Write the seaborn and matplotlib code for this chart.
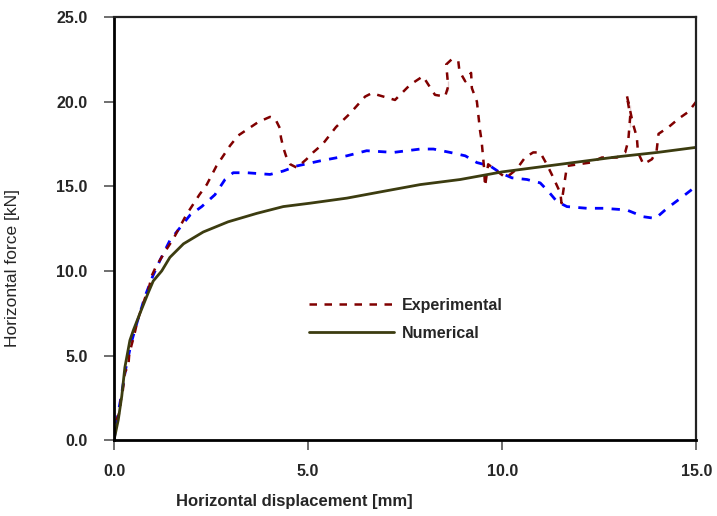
import matplotlib
matplotlib.use("Agg")
import matplotlib.pyplot as plt
import seaborn as sns
import pandas as pd

# Experimental curve (dark red, in legend)
exp_x = [0.0, 0.0, 0.07, 0.15, 0.17, 0.22, 0.28, 0.37, 0.39, 0.45, 0.51, 0.57, 0.64, 0.71,
         0.80, 0.91, 0.97, 1.07, 1.20, 1.36, 1.53, 1.86, 2.20, 2.39, 2.64, 2.99, 3.20, 3.72,
         4.02, 4.15, 4.28, 4.30, 4.36, 4.43, 4.54, 4.71, 4.96, 5.13, 5.38, 5.72, 6.08, 6.47,
         6.64, 6.94, 7.24, 7.63, 7.96, 8.10, 8.27, 8.53, 8.61, 8.61, 8.56, 8.70, 8.87, 8.90,
         9.05, 9.20, 9.22, 9.35, 9.43, 9.47, 9.53, 9.56, 9.64, 9.86, 10.10, 10.37, 10.59,
         10.80, 10.98, 11.15, 11.30, 11.50, 11.53, 11.67, 11.96, 12.27, 12.57, 12.96, 13.17,
         13.25, 13.30, 13.21, 13.30, 13.37, 13.47, 13.50, 13.64, 13.86, 13.98, 14.03, 14.29,
         14.55, 14.80, 15.00]
exp_y = [0.0, 0.6, 1.2, 1.7, 2.3, 2.8, 4.0, 4.4, 5.0, 5.6, 6.1, 6.7, 7.3, 7.8,
         8.4, 9.1, 9.7, 10.2, 10.7, 11.3, 11.9, 13.3, 14.5, 15.1, 16.2, 17.4, 18.0, 18.8,
         19.1, 19.0, 18.4, 17.9, 17.3, 16.8, 16.3, 16.1, 16.6, 17.0, 17.5, 18.5, 19.3, 20.3,
         20.5, 20.3, 20.1, 21.0, 21.5, 21.0, 20.4, 20.3, 20.6, 21.2, 22.2, 22.5, 22.4, 21.8,
         21.2, 21.7, 20.8, 20.0, 18.3, 17.7, 16.2, 15.0, 16.3, 15.9, 15.5, 16.0, 16.7,
         17.0, 17.0, 16.3, 15.6, 14.6, 14.0, 16.2, 16.3, 16.4, 16.7, 16.7, 17.0,
         17.7, 18.5, 20.4, 19.8, 18.7, 17.9, 17.0, 16.3, 16.6, 17.1, 18.1, 18.5,
         19.0, 19.4, 20.0]

# Second experimental curve (blue, not in legend)
exp2_x = [0.0, 0.1, 0.2, 0.3, 0.45, 0.6, 0.8, 1.0, 1.2, 1.44, 1.96, 2.26, 2.6, 2.86, 3.07,
          3.42, 4.02, 4.36, 4.71, 5.31, 6.0, 6.51, 7.2, 7.89, 8.23, 8.66, 9.05, 9.35, 9.69,
          9.95, 10.25, 10.64, 10.98, 11.19, 11.41, 11.67, 12.18, 12.61, 13.21, 13.64, 13.95,
          14.25, 14.6, 14.94, 15.0]
exp2_y = [0.0, 1.5, 2.8, 4.2, 5.8, 7.0, 8.5, 9.7, 10.7, 11.8, 13.3, 13.8, 14.5, 15.4, 15.8,
          15.8, 15.7, 15.9, 16.2, 16.5, 16.8, 17.1, 17.0, 17.2, 17.2, 17.0, 16.8, 16.4, 16.2,
          15.8, 15.5, 15.4, 15.2, 14.7, 14.1, 13.8, 13.7, 13.7, 13.6, 13.2, 13.1,
          13.7, 14.3, 14.9, 15.0]

# Numerical curve
num_x = [0.0, 0.11, 0.2, 0.28, 0.41, 0.5, 0.67, 0.88, 1.01, 1.23, 1.44, 1.79, 2.3, 2.94,
         3.68, 4.36, 5.05, 6.0, 6.94, 7.89, 8.92, 10.0, 11.0, 12.0, 13.0, 14.0, 15.0]
num_y = [0.0, 1.2, 2.6, 4.3, 5.9, 6.5, 7.5, 8.7, 9.4, 10.0, 10.8, 11.6, 12.3, 12.9,
         13.4, 13.8, 14.0, 14.3, 14.7, 15.1, 15.4, 15.85, 16.15, 16.45, 16.75, 17.0, 17.3]

x_ticks = [0, 5, 10, 15]
y_ticks = [0, 5, 10, 15, 20, 25]

sns.set_style("white")
plt.rcParams['font.family'] = ['Liberation Sans', 'DejaVu Sans']

fig = plt.figure(figsize=(7.17, 5.16), dpi=100)
ax = fig.add_axes([0.159, 0.147, 0.812, 0.82])

df_exp = pd.DataFrame({'x': exp_x, 'y': exp_y})
df_exp2 = pd.DataFrame({'x': exp2_x, 'y': exp2_y})
df_num = pd.DataFrame({'x': num_x, 'y': num_y})

sns.lineplot(data=df_exp2, x='x', y='y', sort=False, ax=ax, color='#0000ff',
             linewidth=2, legend=False)
ax.lines[-1].set_dashes((3, 3))
sns.lineplot(data=df_exp, x='x', y='y', sort=False, ax=ax, color='#800000',
             linewidth=1.8, label='Experimental')
ax.lines[-1].set_dashes((3, 3))
sns.lineplot(data=df_num, x='x', y='y', sort=False, ax=ax, color='#3c3c10',
             linewidth=2, label='Numerical')

ax.set_xlim(0, 15)
ax.set_ylim(0, 25)
ax.set_xticks(x_ticks)
ax.set_yticks(y_ticks)
ax.set_xticklabels([f"{v:.1f}" for v in x_ticks], fontweight='bold', fontsize=11.5)
ax.set_yticklabels([f"{v:.1f}" for v in y_ticks], fontweight='bold', fontsize=11.5)
ax.tick_params(axis='y', direction='out', length=7, width=1.2, color='#555555', pad=12, left=True)
ax.tick_params(axis='x', direction='out', length=7, width=1.2, color='#555555', pad=10, bottom=True)

for side in ['left', 'bottom']:
    ax.spines[side].set_color('black')
    ax.spines[side].set_linewidth(2)
for side in ['top', 'right']:
    ax.spines[side].set_color('#222222')
    ax.spines[side].set_linewidth(1.6)

ax.set_xlabel('Horizontal displacement [mm]', fontweight='bold', fontsize=12)
ax.set_ylabel('Horizontal force [kN]', fontsize=12.5)
ax.xaxis.set_label_coords(0.31, -0.128)
ax.yaxis.set_label_coords(-0.161, 0.407)

leg = ax.legend(loc='upper left', bbox_to_anchor=(0.31, 0.37), frameon=False,
                handlelength=5.3, handletextpad=0.5, labelspacing=0.8,
                prop={'weight': 'bold', 'size': 11.5})

fig.savefig('out.png', dpi=100)
